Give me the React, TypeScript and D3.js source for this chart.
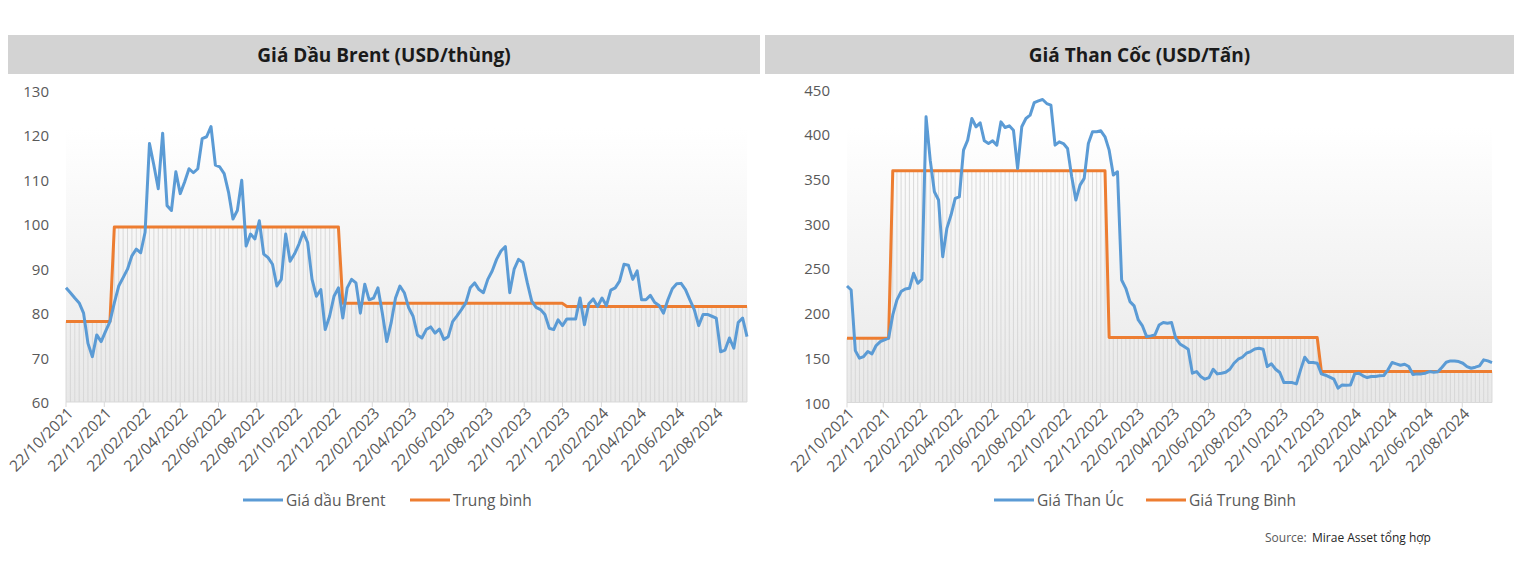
import React from "react";
import * as d3 from "d3";

// weekly observations, first one on 22/10/2021
const parseDay = d3.timeParse("%d/%m/%Y");
const firstWeek = parseDay("22/10/2021") as Date;
const weekCount = 156;
const weeks = d3.range(weekCount).map((i) => d3.timeDay.offset(firstWeek, 7 * i));

const tickLabels = [
  "22/10/2021", "22/12/2021", "22/02/2022", "22/04/2022", "22/06/2022", "22/08/2022",
  "22/10/2022", "22/12/2022", "22/02/2023", "22/04/2023", "22/06/2023", "22/08/2023",
  "22/10/2023", "22/12/2023", "22/02/2024", "22/04/2024", "22/06/2024", "22/08/2024",
];

const brentPrice = [
  85.7, 84.6, 83.4, 82.3, 80.0, 73.2, 70.2, 75.1, 73.6, 75.9, 78.1,
  82.3, 86.1, 88.0, 89.9, 92.9, 94.4, 93.6, 98.2, 118.2, 113.3,
  108.0, 120.5, 104.2, 103.1, 111.8, 106.9, 109.5, 112.5, 111.6, 112.5,
  119.3, 119.7, 122.0, 113.3, 112.9, 111.4, 107.2, 101.2, 103.1, 109.9,
  95.1, 97.8, 96.7, 100.8, 93.3, 92.5, 91.0, 86.1, 87.6, 97.8,
  91.7, 93.3, 95.5, 98.2, 95.9, 87.6, 83.8, 85.3, 76.3, 79.3,
  83.8, 85.7, 78.9, 85.7, 87.6, 86.8, 80.0, 86.5, 83.0, 83.4,
  85.7, 80.0, 73.6, 77.8, 83.4, 86.1, 84.6, 81.2, 79.3, 75.1,
  74.4, 76.3, 76.9, 75.5, 76.4, 74.1, 74.7, 78.1, 79.4, 80.8,
  82.3, 85.7, 86.8, 85.3, 84.6, 87.6, 89.5, 92.1, 94.0, 95.0,
  84.6, 89.9, 92.1, 91.4, 86.8, 82.7, 81.3, 80.8, 79.7, 76.6,
  76.3, 78.5, 77.2, 78.7, 78.7, 78.7, 83.4, 77.4, 82.1, 83.2,
  81.5, 83.4, 81.7, 85.2, 85.7, 87.2, 91.0, 90.8, 87.6, 89.5,
  83.0, 83.0, 84.0, 82.4, 81.7, 80.0, 83.0, 85.5, 86.6, 86.7,
  85.3, 83.0, 80.8, 77.2, 79.7, 79.7, 79.3, 78.9, 71.3, 71.7,
  74.4, 72.1, 77.9, 78.9, 74.7,
];

const coalPrice = [
  230.3, 225.8, 158.0, 149.5, 151.4, 157.0, 154.4, 163.7, 168.0, 170.0, 171.9,
  197.9, 214.7, 224.0, 227.0, 227.7, 244.5, 233.3, 237.7, 419.4, 371.0,
  335.7, 326.4, 263.0, 294.7, 309.6, 328.2, 330.0, 382.2, 393.4, 417.6,
  408.3, 412.7, 392.6, 389.6, 392.6, 387.8, 413.8, 407.5, 409.4, 404.5,
  361.7, 408.3, 417.6, 421.3, 435.4, 437.3, 438.8, 434.3, 432.5, 387.8,
  391.5, 389.6, 384.0, 352.4, 326.4, 343.1, 350.6, 389.6, 402.7, 402.7,
  403.8, 397.1, 382.2, 354.3, 358.0, 237.0, 227.7, 212.8, 208.0, 192.3,
  185.6, 173.7, 174.5, 175.6, 186.7, 189.4, 188.6, 189.4, 171.9, 165.5,
  162.5, 159.6, 132.8, 134.6, 129.0, 126.1, 127.9, 137.2, 132.0, 132.8,
  133.9, 137.2, 143.9, 148.4, 150.6, 155.1, 157.0, 159.9, 160.7, 159.6,
  140.2, 143.2, 137.2, 133.5, 122.3, 122.3, 122.3, 120.8, 136.5, 150.6,
  144.7, 144.7, 143.9, 132.0, 130.5, 128.3, 126.1, 116.0, 119.7, 119.4,
  119.7, 132.0, 132.8, 129.8, 127.9, 129.0, 129.0, 129.8, 130.2, 136.5,
  144.7, 143.2, 141.7, 142.8, 140.2, 131.3, 132.0, 132.0, 132.8, 134.6,
  133.9, 134.3, 139.5, 145.0, 146.5, 146.5, 145.8, 143.9, 140.2, 138.3,
  139.5, 141.0, 147.7, 146.5, 144.7,
];

// yearly averages (step line) and the week each one starts
const avgStarts = ["22/10/2021", "07/01/2022", "06/01/2023", "29/12/2023"];
const brentAvg = [78.1, 99.4, 82.2, 81.5];
const coalAvg = [171.9, 359.1, 172.6, 134.6];

const brentTicks = [60, 70, 80, 90, 100, 110, 120, 130];
const coalTicks = [100, 150, 200, 250, 300, 350, 400, 450];

const FONT = "'Open Sans', 'Noto Sans', sans-serif";
const BLUE = "#5b9bd5";
const ORANGE = "#ed7d31";
const TEXT = "#595959";

function avgSeries(values: number[]) {
  const starts = avgStarts.map((s) => parseDay(s) as Date);
  return weeks.map((w) => {
    let k = 0;
    starts.forEach((s, i) => {
      if (w >= s) k = i;
    });
    return values[k];
  });
}

interface PanelProps {
  id: string;
  title: string;
  barX: [number, number];
  plot: { left: number; right: number; top: number; bottom: number };
  ticks: number[];
  price: number[];
  avg: number[];
  legend: [string, string];
  legendX: [number, number];
}

const Panel = ({ id, title, barX, plot, ticks, price, avg, legend, legendX }: PanelProps) => {
  const x = d3.scaleTime().domain([weeks[0], weeks[weeks.length - 1]]).range([plot.left, plot.right]);
  const y = d3
    .scaleLinear()
    .domain([ticks[0], ticks[ticks.length - 1]])
    .range([plot.bottom, plot.top]);
  const avgValues = avgSeries(avg);

  const line = d3
    .line<number>()
    .x((d, i) => x(weeks[i]))
    .y((d) => y(d));

  return (
    <g>
      {/* title band */}
      <rect x={barX[0]} y={35} width={barX[1] - barX[0]} height={39} fill="#d3d3d3" />
      <text
        x={(barX[0] + barX[1]) / 2}
        y={55}
        textAnchor="middle"
        dominantBaseline="central"
        fontFamily={FONT}
        fontWeight="bold"
        fontSize={19}
        fill="#1a1a1a"
      >
        {title}
      </text>

      <defs>
        <linearGradient id={id} x1="0" y1="0" x2="0" y2="1">
          <stop offset="0" stopColor="#ffffff" />
          <stop offset="0.12" stopColor="#ffffff" />
          <stop offset="1" stopColor="#e8e8e8" />
        </linearGradient>
      </defs>
      <rect
        x={plot.left}
        y={plot.top}
        width={plot.right - plot.left}
        height={plot.bottom - plot.top}
        fill={`url(#${id})`}
      />

      {/* drop lines under the average series */}
      {avgValues.map((v, i) => (
        <line
          key={i}
          x1={x(weeks[i])}
          x2={x(weeks[i])}
          y1={plot.bottom}
          y2={y(v)}
          stroke="#d2d2d2"
          strokeWidth={0.8}
        />
      ))}

      {/* y labels */}
      {ticks.map((t) => (
        <text
          key={t}
          x={plot.left - 17}
          y={y(t)}
          textAnchor="end"
          dominantBaseline="central"
          fontFamily={FONT}
          fontSize={15}
          fill={TEXT}
        >
          {t}
        </text>
      ))}

      {/* x axis */}
      <line x1={plot.left} x2={plot.right} y1={plot.bottom} y2={plot.bottom} stroke="#d9d9d9" strokeWidth={1} />
      {tickLabels.map((s) => {
        const tx = x(parseDay(s) as Date);
        return (
          <g key={s}>
            <line x1={tx} x2={tx} y1={plot.bottom} y2={plot.bottom + 5} stroke="#d9d9d9" />
            <text
              transform={`translate(${tx + 4},${plot.bottom + 8}) rotate(-45)`}
              textAnchor="end"
              dominantBaseline="central"
              fontFamily={FONT}
              fontSize={15.5}
              fill={TEXT}
            >
              {s}
            </text>
          </g>
        );
      })}

      <path d={line(avgValues) || ""} fill="none" stroke={ORANGE} strokeWidth={3} strokeLinejoin="round" />
      <path d={line(price) || ""} fill="none" stroke={BLUE} strokeWidth={3} strokeLinejoin="round" />

      {/* legend */}
      {[BLUE, ORANGE].map((c, i) => (
        <g key={c}>
          <line x1={legendX[i]} x2={legendX[i] + 40} y1={500} y2={500} stroke={c} strokeWidth={3} />
          <text
            x={legendX[i] + 43}
            y={500}
            dominantBaseline="central"
            fontFamily={FONT}
            fontSize={15.5}
            fill={TEXT}
          >
            {legend[i]}
          </text>
        </g>
      ))}
    </g>
  );
};

export default function App() {
  return (
    <svg
      width={1528}
      height={568}
      style={{ position: "absolute", left: 0, top: 0, background: "#fff" }}
    >
      <Panel
        id="gradBrent"
        title="Giá Dầu Brent (USD/thùng)"
        barX={[8, 760]}
        plot={{ left: 66, right: 747, top: 91, bottom: 402 }}
        ticks={brentTicks}
        price={brentPrice}
        avg={brentAvg}
        legend={["Giá dầu Brent", "Trung bình"]}
        legendX={[243, 410]}
      />
      <Panel
        id="gradCoal"
        title="Giá Than Cốc (USD/Tấn)"
        barX={[765, 1514]}
        plot={{ left: 847, right: 1492, top: 89.5, bottom: 402.5 }}
        ticks={coalTicks}
        price={coalPrice}
        avg={coalAvg}
        legend={["Giá Than Úc", "Giá Trung Bình"]}
        legendX={[994, 1146]}
      />
      <text x={1265} y={542} fontFamily={FONT} fontSize={12} fill={TEXT}>
        Source:
      </text>
      <text x={1312} y={542} fontFamily={FONT} fontSize={12} fill="#262626">
        Mirae Asset tổng hợp
      </text>
    </svg>
  );
}
